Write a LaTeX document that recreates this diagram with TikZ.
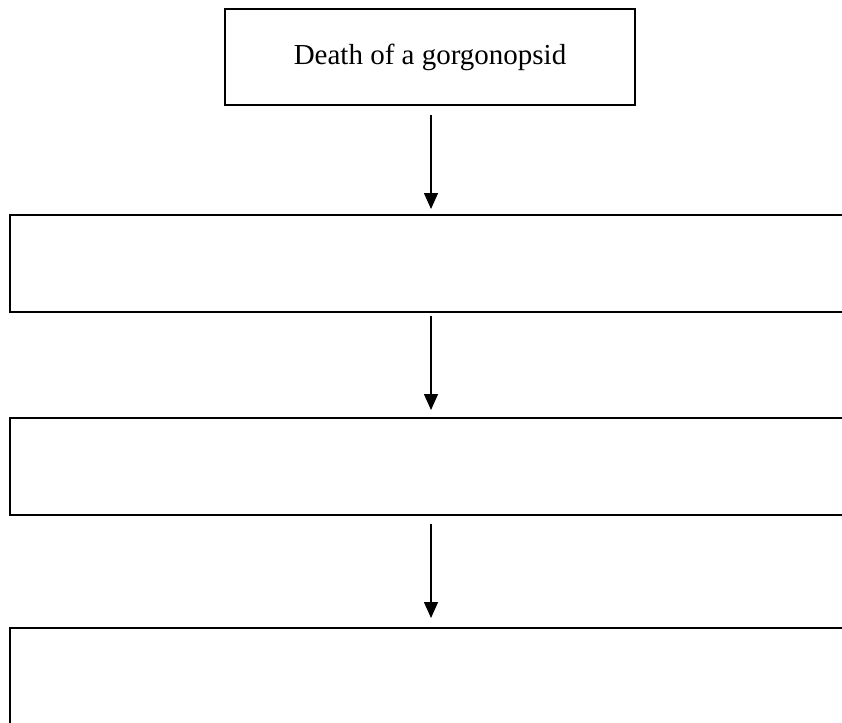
\documentclass[tikz,border=0pt]{standalone}
\usepackage{fontspec}
\setmainfont{Liberation Serif}
\usetikzlibrary{positioning,arrows.meta}

\begin{document}
\begin{tikzpicture}[x=1pt,y=-1pt,
  stage/.style={draw, line width=2pt, inner sep=0pt, anchor=north west},
  flow/.style={-{Triangle[length=16pt,width=14pt]}, line width=1.4pt}]
  \useasboundingbox (0,0) rectangle (842,722);
  \clip (0,0) rectangle (842,722);
  % boxes
  \node[stage, minimum width=410pt, minimum height=96pt,
        font=\fontsize{29}{34}\selectfont] (death) at (224,8) {Death of a gorgonopsid};
  \node[stage, minimum width=860pt, minimum height=97pt] (stepA) at (9,214) {};
  \node[stage, minimum width=860pt, minimum height=97pt] (stepB) at (9,417) {};
  \node[stage, minimum width=860pt, minimum height=97pt] (stepC) at (9,627) {};
  % arrows
  \draw[flow, shorten <=9pt, shorten >=5pt] ([xshift=1pt]death.south) -- ([xshift=1pt]death.south |- stepA.north);
  \draw[flow, shorten <=3pt, shorten >=7pt] ([xshift=1pt]death.south |- stepA.south) -- ([xshift=1pt]death.south |- stepB.north);
  \draw[flow, shorten <=8pt, shorten >=9pt] ([xshift=1pt]death.south |- stepB.south) -- ([xshift=1pt]death.south |- stepC.north);
\end{tikzpicture}
\end{document}
